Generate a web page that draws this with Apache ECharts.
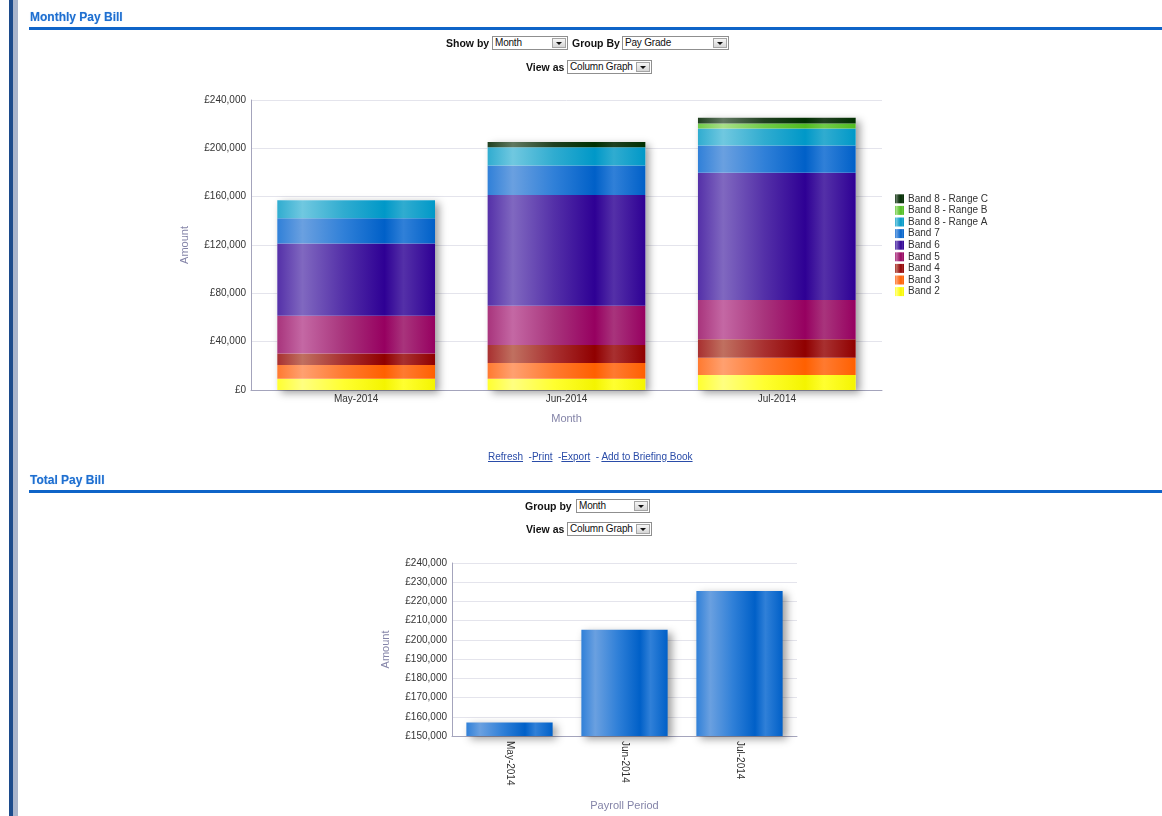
<!DOCTYPE html>
<html>
<head>
<meta charset="utf-8">
<title>Pay Bill</title>
<script src="https://cdn.jsdelivr.net/npm/echarts@6/dist/echarts.min.js"></script>
<style>
html, body { margin: 0; padding: 0; background: #fff; }
body { width: 1162px; height: 816px; position: relative; overflow: hidden; font-family: "Liberation Sans", Arial, sans-serif; }
#chart { position: absolute; left: 0; top: 0; width: 1162px; height: 816px; }
.abs { position: absolute; z-index: 5; white-space: nowrap; }
.edge1 { left: 9px; top: 0; width: 4px; height: 816px; background: #1c4b8c; }
.edge2 { left: 13px; top: 0; width: 5px; height: 816px; background: #a9b5cc; }
.title { font-weight: bold; font-size: 12px; line-height: 14px; color: #1f6fd0; text-shadow: 0 0 1px #9cc4f0; }
.rule { left: 29px; width: 1133px; height: 3px; background: #0f64c8; }
.lbl { font-weight: bold; font-size: 10.5px; line-height: 14px; color: #111; }
.sel { height: 14px; box-sizing: border-box; border: 1px solid #8f8f8f; background: #fff; font-size: 10px; line-height: 12px; color: #111; letter-spacing: -0.2px; }
.sel span { padding-left: 2px; }
.sel i { position: absolute; right: 1px; top: 1px; width: 14px; height: 10px; box-sizing: border-box; border: 1px solid #a4a4a4; background: linear-gradient(#f6f6f6, #d6d6d6); }
.sel i:after { content: ""; position: absolute; left: 3px; top: 3px; border-left: 3px solid transparent; border-right: 3px solid transparent; border-top: 3px solid #111; }
.links { font-size: 10px; line-height: 14px; color: #2a4ca8; }
.links a { color: #2a4ca8; text-decoration: underline; }
</style>
</head>
<body>
<div class="abs edge1"></div>
<div class="abs edge2"></div>

<div class="abs title" style="left:30px; top:10px;">Monthly Pay Bill</div>
<div class="abs rule" style="top:27px;"></div>
<div class="abs lbl" style="left:446px; top:36px;">Show by</div>
<div class="abs sel" style="left:492px; top:36px; width:76px;"><span>Month</span><i></i></div>
<div class="abs lbl" style="left:572px; top:36px;">Group By</div>
<div class="abs sel" style="left:622px; top:36px; width:107px;"><span>Pay Grade</span><i></i></div>
<div class="abs lbl" style="left:526px; top:60px;">View as</div>
<div class="abs sel" style="left:567px; top:60px; width:85px;"><span>Column Graph</span><i></i></div>

<div class="abs links" style="left:488px; top:450px;"><a>Refresh</a>&nbsp; -<a>Print</a>&nbsp; -<a>Export</a>&nbsp; - <a>Add to Briefing Book</a></div>

<div class="abs title" style="left:30px; top:473px;">Total Pay Bill</div>
<div class="abs rule" style="top:490px;"></div>
<div class="abs lbl" style="left:525px; top:499px;">Group by</div>
<div class="abs sel" style="left:576px; top:499px; width:74px;"><span>Month</span><i></i></div>
<div class="abs lbl" style="left:526px; top:522px;">View as</div>
<div class="abs sel" style="left:567px; top:522px; width:85px;"><span>Column Graph</span><i></i></div>

<div id="chart"></div>

<script>
// months shown on both charts
const months = ['May-2014', 'Jun-2014', 'Jul-2014'];

// monthly amount per pay grade
const band2 = [9300, 9400, 12400];
const band3 = [11300, 13000, 14300];
const band4 = [9700, 14900, 15200];
const band5 = [31100, 32500, 32500];
const band6 = [59800, 91600, 105400];
const band7 = [20900, 24300, 22600];
const band8a = [14900, 15200, 14100];
const band8b = [null, null, 4100];
const band8c = [null, 4400, 4800];

// total pay bill per payroll period
const totals = [157000, 205300, 225400];

// value axis ticks
const monthlyTicks = [0, 40000, 80000, 120000, 160000, 200000, 240000];
const totalTicks = [150000, 160000, 170000, 180000, 190000, 200000, 210000, 220000, 230000, 240000];

const bandNames = ['Band 2', 'Band 3', 'Band 4', 'Band 5', 'Band 6', 'Band 7',
  'Band 8 - Range A', 'Band 8 - Range B', 'Band 8 - Range C'];
const bandValues = [band2, band3, band4, band5, band6, band7, band8a, band8b, band8c];

// light / mid / dark shade for each band
const bandColors = [
  ['#ffff80', '#ffff30', '#f4f400'],
  ['#ffa070', '#ff7a30', '#ff6000'],
  ['#c07060', '#a83030', '#900000'],
  ['#c468a4', '#a8347c', '#960060'],
  ['#8068c0', '#5430a8', '#2e0094'],
  ['#6aa0e0', '#3080d8', '#0060c8'],
  ['#70c8e0', '#30acd0', '#0098c8'],
  ['#a8e088', '#70cc48', '#50bc20'],
  ['#607860', '#204020', '#003000']
];

function shade(c) {
  return new echarts.graphic.LinearGradient(0, 0, 1, 0, [
    { offset: 0, color: c[1] },
    { offset: 0.16, color: c[0] },
    { offset: 0.42, color: c[1] },
    { offset: 0.68, color: c[2] },
    { offset: 0.8, color: c[1] },
    { offset: 1, color: c[2] }
  ]);
}

function money(v) {
  return '£' + String(v).replace(/\B(?=(\d{3})+(?!\d))/g, ',');
}

const axisGrey = '#a4a4bc';
const nameColor = '#8484a8';

var myChart = echarts.init(document.getElementById('chart'));

let series = [];
// soft shadow behind the whole stacked column
series.push({
  name: 'shadow',
  type: 'bar',
  xAxisIndex: 0,
  yAxisIndex: 0,
  data: totals,
  barWidth: '75%',
  barGap: '-100%',
  z: 1,
  silent: true,
  itemStyle: {
    color: '#fff',
    shadowColor: 'rgba(0,0,0,0.38)',
    shadowBlur: 8,
    shadowOffsetX: 4,
    shadowOffsetY: 3
  }
});
bandNames.forEach((name, i) => {
  series.push({
    name: name,
    type: 'bar',
    stack: 'pay',
    xAxisIndex: 0,
    yAxisIndex: 0,
    data: bandValues[i],
    barWidth: '75%',
    barGap: '-100%',
    z: 2,
    itemStyle: { color: shade(bandColors[i]) }
  });
});
series.push({
  name: 'Total',
  type: 'bar',
  xAxisIndex: 1,
  yAxisIndex: 1,
  data: totals,
  barWidth: '75%',
  itemStyle: {
    color: shade(bandColors[5]),
    shadowColor: 'rgba(0,0,0,0.38)',
    shadowBlur: 8,
    shadowOffsetX: 4,
    shadowOffsetY: 3
  }
});

myChart.setOption({
  animation: false,
  textStyle: { fontFamily: 'Liberation Sans, Arial, sans-serif' },
  legend: {
    orient: 'vertical',
    left: 890,
    top: 188,
    icon: 'rect',
    itemWidth: 9,
    itemHeight: 9,
    itemGap: 0,
    selectedMode: false,
    data: bandNames.slice().reverse(),
    textStyle: { fontSize: 10, color: '#333', lineHeight: 11.6, padding: [0, 0, 0, -1] }
  },
  grid: [
    { left: 251, top: 100, width: 631, height: 290 },
    { left: 452, top: 563, width: 345, height: 173 }
  ],
  xAxis: [
    {
      type: 'category',
      gridIndex: 0,
      data: months,
      axisLine: { lineStyle: { color: axisGrey } },
      axisTick: { show: false },
      axisLabel: { fontSize: 10, color: '#333', margin: 4 },
      name: 'Month',
      nameLocation: 'middle',
      nameGap: 23,
      nameTextStyle: { fontSize: 11, color: nameColor }
    },
    {
      type: 'category',
      gridIndex: 1,
      data: months,
      axisLine: { lineStyle: { color: axisGrey } },
      axisTick: { show: false },
      axisLabel: { fontSize: 10, color: '#333', margin: 5, rotate: -90 },
      name: 'Payroll Period',
      nameLocation: 'middle',
      nameGap: 64,
      nameTextStyle: { fontSize: 11, color: nameColor }
    }
  ],
  yAxis: [
    {
      type: 'value',
      gridIndex: 0,
      min: monthlyTicks[0],
      max: monthlyTicks[monthlyTicks.length - 1],
      interval: monthlyTicks[1] - monthlyTicks[0],
      axisLine: { show: true, lineStyle: { color: axisGrey } },
      axisTick: { show: false },
      splitLine: { lineStyle: { color: '#e4e4ec' } },
      axisLabel: { fontSize: 10, color: '#333', margin: 5, formatter: money },
      name: 'Amount',
      nameLocation: 'middle',
      nameGap: 61,
      nameTextStyle: { fontSize: 11, color: nameColor }
    },
    {
      type: 'value',
      gridIndex: 1,
      min: totalTicks[0],
      max: totalTicks[totalTicks.length - 1],
      interval: totalTicks[1] - totalTicks[0],
      axisLine: { show: true, lineStyle: { color: axisGrey } },
      axisTick: { show: false },
      splitLine: { lineStyle: { color: '#e4e4ec' } },
      axisLabel: { fontSize: 10, color: '#333', margin: 5, formatter: money },
      name: 'Amount',
      nameLocation: 'middle',
      nameGap: 61,
      nameTextStyle: { fontSize: 11, color: nameColor }
    }
  ],
  series: series
});
</script>
</body>
</html>
